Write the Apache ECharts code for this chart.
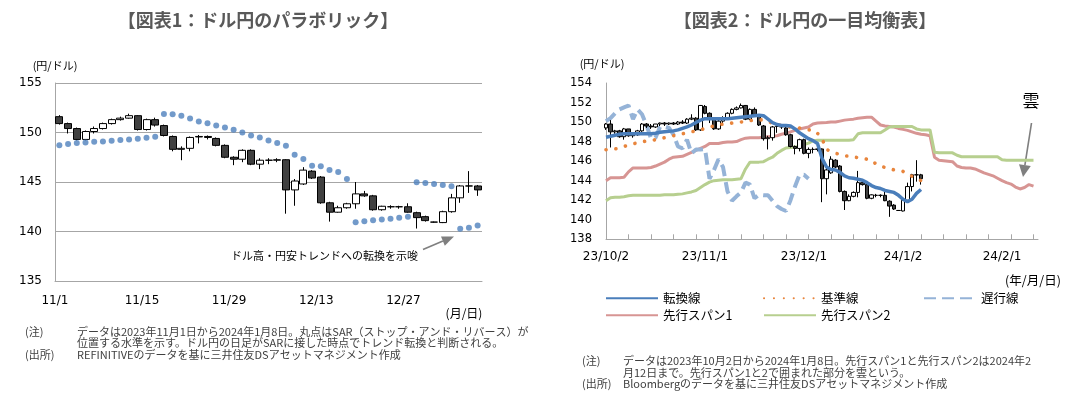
<!DOCTYPE html>
<html><head><meta charset="utf-8">
<script src="https://cdn.jsdelivr.net/npm/echarts@6/dist/echarts.min.js"></script>
<style>html,body{margin:0;padding:0;background:#fff}#c{width:1087px;height:397px}</style>
</head><body><div id="c"></div>
<script>
// ---------- categories (weekdays) ----------
const c2Months = [
  ['23/10', [2,3,4,5,6,9,10,11,12,13,16,17,18,19,20,23,24,25,26,27,30,31]],
  ['23/11', [1,2,3,6,7,8,9,10,13,14,15,16,17,20,21,22,23,24,27,28,29,30]],
  ['23/12', [1,4,5,6,7,8,11,12,13,14,15,18,19,20,21,22,25,26,27,28,29]],
  ['24/1',  [1,2,3,4,5,8,9,10,11,12,15,16,17,18,19,22,23,24,25,26,29,30,31]],
  ['24/2',  [1,2,5,6,7,8,9,12]]
];
const c2Dates = [];
c2Months.forEach(([ym, days]) => days.forEach(d => c2Dates.push(ym + '/' + d)));
c2Dates.push('');  // axis end padding
const c1Dates = c2Dates.slice(c2Dates.indexOf('23/11/1'), c2Dates.indexOf('24/1/8') + 1).map(s => s.slice(3));

const c1TickLabels = ['11/1', '11/15', '11/29', '12/13', '12/27'];
const c2TickLabels = ['23/10/2', '23/11/1', '23/12/1', '24/1/2', '24/2/1'];

// ---------- Chart 1: USD/JPY daily candles 2023/11/1 - 2024/1/8 ----------
const c1Open  = [151.6,150.9,150.4,149.3,150.1,150.4,150.9,151.3,151.45,151.7,150.3,151.3,150.7,149.6,148.3,148.4,149.55,149.6,149.4,148.7,147.5,147.3,148.2,146.8,147.2,147.2,147.25,144.2,144.8,146.1,145.5,142.9,141.95,142.4,142.8,143.8,143.6,142.2,142.5,142.5,142.5,141.9,141.5,140.95,140.9,142.0,143.4,144.6,144.6];
const c1Close = [150.9,150.4,149.3,150.1,150.4,150.9,151.3,151.45,151.7,150.3,151.3,150.75,149.7,148.3,148.4,149.5,149.6,149.5,148.7,147.5,147.3,148.2,146.8,147.2,147.2,147.25,144.2,145.1,146.2,145.4,142.9,141.95,142.4,142.8,143.8,143.6,142.2,142.55,142.5,142.5,141.95,141.4,141.1,140.95,142.0,143.4,144.6,144.6,144.2];
const c1Low   = [150.8,149.9,149.2,149.2,149.9,150.3,150.8,151.2,151.4,150.2,150.2,150.6,149.6,148.1,147.2,148.1,148.9,149.3,148.6,147.4,146.7,147.0,146.7,146.3,146.8,147.0,141.8,142.6,144.7,145.3,142.8,141.0,141.9,142.3,142.3,143.5,142.1,142.1,142.3,142.3,141.9,140.3,141.0,140.9,140.85,141.9,142.9,143.9,143.6];
const c1High  = [151.75,151.0,150.5,150.2,150.6,151.0,151.4,151.6,151.9,151.75,151.4,151.5,150.8,149.7,148.6,149.6,149.75,149.7,149.5,148.8,147.6,148.3,148.3,147.4,147.4,147.4,147.3,145.3,146.5,146.2,145.6,143.0,142.6,142.9,145.0,144.1,143.7,142.6,142.65,142.6,142.85,142.0,141.6,141.0,142.1,143.8,144.7,146.1,144.7];
// Parabolic SAR dots
const c1SAR = [148.72,148.83,148.93,149.0,149.06,149.1,149.16,149.23,149.3,149.36,149.46,149.56,151.88,151.85,151.68,151.41,151.11,150.94,150.7,150.5,150.27,150.0,149.7,149.5,149.19,148.93,148.66,147.75,147.32,146.64,146.58,146.21,146.0,145.3,140.94,141.04,141.14,141.2,141.3,141.38,141.48,144.97,144.9,144.8,144.7,144.56,140.27,140.37,140.6];

// ---------- Chart 2: October 2023 candles (rest same as chart 1) ----------
const c2OctOpen  = [149.4,149.8,149.0,149.1,148.5,149.3,148.6,148.7,149.1,149.8,149.6,149.5,149.8,149.9,149.8,149.9,149.8,150.0,149.9,150.3,150.4,149.2];
const c2OctClose = [149.8,149.0,149.1,148.5,149.3,148.6,148.7,149.1,149.8,149.6,149.5,149.8,149.9,149.8,149.9,149.8,150.0,149.9,150.3,150.4,149.2,151.7];
const c2OctLow   = [149.2,147.4,148.8,148.4,148.2,148.5,148.4,148.6,149.0,149.4,149.3,149.4,149.6,149.6,149.7,149.7,149.7,149.8,149.8,150.2,149.1,149.1];
const c2OctHigh  = [149.9,150.2,149.2,149.2,149.4,149.3,148.9,149.2,149.9,149.9,149.8,149.8,149.95,150.0,149.95,150.0,150.1,150.2,150.4,150.8,150.5,151.75];

const tenkan = [148.45,148.55,148.65,148.75,148.8,148.8,148.8,148.8,148.8,148.8,148.8,148.85,148.95,149.0,149.05,149.1,149.2,149.35,149.5,149.7,149.95,150.2,150.35,150.35,150.35,150.35,150.35,150.35,150.4,150.45,150.5,150.55,150.6,150.65,150.7,150.65,150.3,149.95,149.75,149.65,149.65,149.6,149.3,148.9,148.6,148.3,148.1,147.8,146.3,145.4,145.15,145.1,144.85,144.5,144.3,144.25,144.15,144.05,143.8,143.5,143.3,143.2,143.0,142.9,142.8,142.5,142.1,141.85,142.1,142.7,143.1];
const kijun = [147.17,147.2,147.25,147.35,147.5,147.65,147.75,147.9,148.0,148.05,148.1,148.2,148.3,148.4,148.5,148.6,148.7,148.8,148.9,149.0,149.1,149.2,149.35,149.5,149.6,149.7,149.8,149.85,149.9,149.95,150.0,150.1,150.15,150.2,150.25,150.2,150.1,149.85,149.7,149.65,149.55,149.5,149.45,149.4,149.3,149.2,149.2,148.85,148.3,147.2,147.0,146.8,146.7,146.55,146.5,146.45,146.35,146.3,146.2,146.12,145.7,145.5,145.35,145.25,145.1,145.0,144.95,144.6,144.45,144.25,144.0];
const chikou = [150.1,150.4,150.9,151.3,151.5,151.7,150.3,151.3,150.8,149.7,148.3,148.4,149.5,149.55,149.4,148.7,147.5,147.3,148.2,146.8,147.2,147.2,147.25,144.2,145.1,146.2,145.4,142.9,141.95,142.4,142.8,143.8,143.6,142.2,142.55,142.5,142.5,141.95,141.4,141.1,140.9,142.0,143.4,144.6,144.6,144.2];
const senkou1 = [144.0,144.3,144.3,144.3,144.35,144.9,145.3,145.3,145.3,145.3,145.35,145.5,145.7,145.9,146.2,146.4,146.45,146.5,146.7,146.9,147.1,147.3,147.5,147.8,147.8,147.8,147.9,147.95,147.95,148.0,148.2,148.35,148.4,148.4,148.4,148.45,148.5,148.55,148.6,148.75,148.85,149.0,149.15,149.3,149.4,149.5,149.8,149.9,149.93,149.95,150.0,150.0,150.1,150.2,150.25,150.3,150.4,150.45,150.5,150.5,150.1,149.7,149.6,149.55,149.5,149.35,149.25,149.15,149.0,148.85,148.75,148.7,148.6,146.4,146.1,146.05,146.0,145.95,145.5,145.35,145.3,145.3,145.2,145.0,144.8,144.65,144.5,144.25,144.0,143.8,143.65,143.35,143.15,143.3,143.6,143.45];
const senkou2 = [141.95,142.25,142.3,142.3,142.35,142.45,142.5,142.5,142.5,142.5,142.5,142.5,142.5,142.55,142.55,142.55,142.6,142.65,142.75,142.85,143.0,143.3,143.6,143.85,144.0,144.05,144.1,144.1,144.1,144.15,144.2,145.2,145.9,145.9,145.9,145.95,146.2,146.4,146.8,147.1,147.35,147.4,147.45,147.5,147.7,147.85,148.1,148.15,148.15,148.15,148.15,148.15,148.15,148.15,148.15,148.2,148.8,148.9,148.9,148.9,148.9,148.9,149.2,149.5,149.55,149.55,149.55,149.55,149.55,149.3,149.2,149.2,149.2,146.9,146.85,146.85,146.85,146.85,146.6,146.45,146.45,146.45,146.45,146.45,146.45,146.45,146.45,146.45,146.15,146.1,146.1,146.1,146.1,146.1,146.1,146.1];

// ---------- build ----------
const c1Candles = c1Open.map((o, i) => [o, c1Close[i], c1Low[i], c1High[i]]);
const c2Candles = c2OctOpen.map((o, i) => [o, c2OctClose[i], c2OctLow[i], c2OctHigh[i]]).concat(c1Candles);

const NUM = 'DejaVu Sans';
const JP = '"Noto Sans CJK JP", sans-serif';
const AX = '#a6a6a6';
const candleStyle = { color: '#ffffff', color0: '#404040', borderColor: '#000000', borderColor0: '#000000', borderWidth: 1 };

function jpText(x, y, text, size, extra) {
  return Object.assign({ type: 'text', x: x, y: y, silent: true,
    style: Object.assign({ text: text, fontSize: size, fontFamily: JP, fill: '#404040', align: 'left', verticalAlign: 'middle' }, extra || {}) });
}
function arrow(x1, y1, bx, by, p1, p2, tip) {
  return { type: 'group', silent: true, children: [
    { type: 'line', shape: { x1: x1, y1: y1, x2: bx, y2: by }, style: { stroke: '#7f7f7f', lineWidth: 1.6 } },
    { type: 'polygon', shape: { points: [tip, p1, p2] }, style: { fill: '#7f7f7f' } }
  ] };
}
const legendBase = { top: 287, orient: 'vertical', itemWidth: 52, itemHeight: 12, itemGap: 4.6,
  itemStyle: { color: 'rgba(0,0,0,0)', borderWidth: 0, opacity: 0 },
  textStyle: { fontFamily: JP, fontSize: 12.5, color: '#000' }, selectedMode: false };

const chart = echarts.init(document.getElementById('c'), null, { renderer: 'canvas' });
chart.setOption({
  animation: false,
  backgroundColor: '#ffffff',
  grid: [
    { left: 55, top: 83, width: 427, height: 198 },
    { left: 606, top: 83, width: 432, height: 156.3 }
  ],
  xAxis: [
    { type: 'category', gridIndex: 0, data: c1Dates, boundaryGap: true,
      axisLine: { lineStyle: { color: AX, width: 1 } },
      axisTick: { inside: true, length: 5, interval: (i, v) => c1TickLabels.includes(v), lineStyle: { color: AX } },
      axisLabel: { interval: (i, v) => c1TickLabels.includes(v), color: '#000', fontFamily: NUM, fontSize: 12, margin: 14, padding: [0, 9, 0, 0] },
      splitLine: { show: false } },
    { type: 'category', gridIndex: 1, data: c2Dates, boundaryGap: false,
      axisLine: { lineStyle: { color: AX, width: 1 } },
      axisTick: { inside: true, length: 5, interval: (i) => i % 5 === 0, lineStyle: { color: AX } },
      axisLabel: { interval: (i, v) => c2TickLabels.includes(v), color: '#000', fontFamily: NUM, fontSize: 12, margin: 12 },
      splitLine: { show: false } }
  ],
  yAxis: [
    { type: 'value', gridIndex: 0, min: 135, max: 155, interval: 5,
      name: '(円/ドル)', nameLocation: 'end', nameGap: 12,
      nameTextStyle: { fontFamily: JP, fontSize: 11, color: '#000', align: 'center' },
      axisLine: { show: true, lineStyle: { color: AX } }, axisTick: { show: false },
      axisLabel: { color: '#000', fontFamily: NUM, fontSize: 12, margin: 13 },
      splitLine: { lineStyle: { color: AX, width: 1 } } },
    { type: 'value', gridIndex: 1, min: 138, max: 154, interval: 2,
      name: '(円/ドル)', nameLocation: 'end', nameGap: 14,
      nameTextStyle: { fontFamily: JP, fontSize: 11, color: '#000', align: 'center', padding: [0, 8, 0, 0] },
      axisLine: { show: true, lineStyle: { color: AX } }, axisTick: { show: false },
      axisLabel: { color: '#000', fontFamily: NUM, fontSize: 11.5, margin: 14 },
      splitLine: { show: false } }
  ],
  legend: [
    Object.assign({ left: 600, data: ['転換線', '先行スパン1'] }, legendBase),
    Object.assign({ left: 758, data: ['基準線', '先行スパン2'] }, legendBase),
    Object.assign({ left: 918, data: ['遅行線'] }, legendBase)
  ],
  series: [
    { name: 'ドル円', type: 'candlestick', xAxisIndex: 0, yAxisIndex: 0, data: c1Candles, barWidth: 7.5, itemStyle: candleStyle, z: 2 },
    { name: 'SAR', type: 'scatter', xAxisIndex: 0, yAxisIndex: 0, data: c1SAR, symbol: 'circle', symbolSize: 6,
      itemStyle: { color: '#4f81bd' }, z: 4 },

    { name: '先行スパン1', type: 'line', xAxisIndex: 1, yAxisIndex: 1, data: senkou1, symbol: 'none',
      lineStyle: { color: '#d79593', width: 3 }, itemStyle: { color: '#d79593' }, z: 1 },
    { name: '先行スパン2', type: 'line', xAxisIndex: 1, yAxisIndex: 1, data: senkou2, symbol: 'none',
      lineStyle: { color: '#b7cf8f', width: 3 }, itemStyle: { color: '#b7cf8f' }, z: 1 },
    { name: '遅行線', type: 'line', xAxisIndex: 1, yAxisIndex: 1, data: chikou, symbol: 'none',
      lineStyle: { color: '#95b3d7', width: 4, type: [12, 6] }, itemStyle: { color: '#95b3d7' }, z: 2 },
    { name: 'ドル円2', type: 'candlestick', xAxisIndex: 1, yAxisIndex: 1, data: c2Candles, barWidth: 4, itemStyle: candleStyle, z: 3 },
    { name: '基準線', type: 'line', xAxisIndex: 1, yAxisIndex: 1, data: kijun, symbol: 'none',
      lineStyle: { color: '#e8853d', width: 3.6, type: [0.1, 9.8], cap: 'round' }, itemStyle: { color: '#e8853d' }, z: 4 },
    { name: '転換線', type: 'line', xAxisIndex: 1, yAxisIndex: 1, data: tenkan, symbol: 'none',
      lineStyle: { color: '#4a7ebb', width: 3.5 }, itemStyle: { color: '#4a7ebb' }, z: 5 }
  ],
  graphic: [
    jpText(258, 20, '【図表1：ドル円のパラボリック】', 18, { align: 'center', fontWeight: 'bold', fill: '#595959' }),
    jpText(805, 20, '【図表2：ドル円の一目均衡表】', 18, { align: 'center', fontWeight: 'bold', fill: '#595959' }),
    jpText(464, 313, '(月/日)', 12, { align: 'center', fill: '#000' }),
    jpText(1033, 280, '(年/月/日)', 12.5, { align: 'center', fill: '#000' }),
    jpText(231, 256, 'ドル高・円安トレンドへの転換を示唆', 11, { fill: '#000' }),
    arrow(423, 249.5, 442.9, 241.1, [444.8, 245.7], [441.0, 236.5], [454, 236.5]),
    jpText(1031, 101, '雲', 17, { align: 'center', fill: '#000' }),
    arrow(1031.5, 123, 1024.9, 165.2, [1030.8, 166.1], [1019.0, 164.2], [1023, 177]),
    // notes chart 1
    jpText(25, 332, '(注)', 11),
    jpText(77, 332, 'データは2023年11月1日から2024年1月8日。丸点はSAR（ストップ・アンド・リバース）が', 11),
    jpText(77, 343, '位置する水準を示す。ドル円の日足がSARに接した時点でトレンド転換と判断される。', 11),
    jpText(25, 355, '(出所)', 11),
    jpText(77, 355, 'REFINITIVEのデータを基に三井住友DSアセットマネジメント作成', 11),
    // notes chart 2
    jpText(582, 361, '(注)', 11),
    jpText(623, 361, 'データは2023年10月2日から2024年1月8日。先行スパン1と先行スパン2は2024年2', 11),
    jpText(623, 372.7, '月12日まで。先行スパン1と2で囲まれた部分を雲という。', 11),
    jpText(582, 384, '(出所)', 11),
    jpText(623, 384, 'Bloombergのデータを基に三井住友DSアセットマネジメント作成', 11)
  ]
});
</script>
</body></html>
